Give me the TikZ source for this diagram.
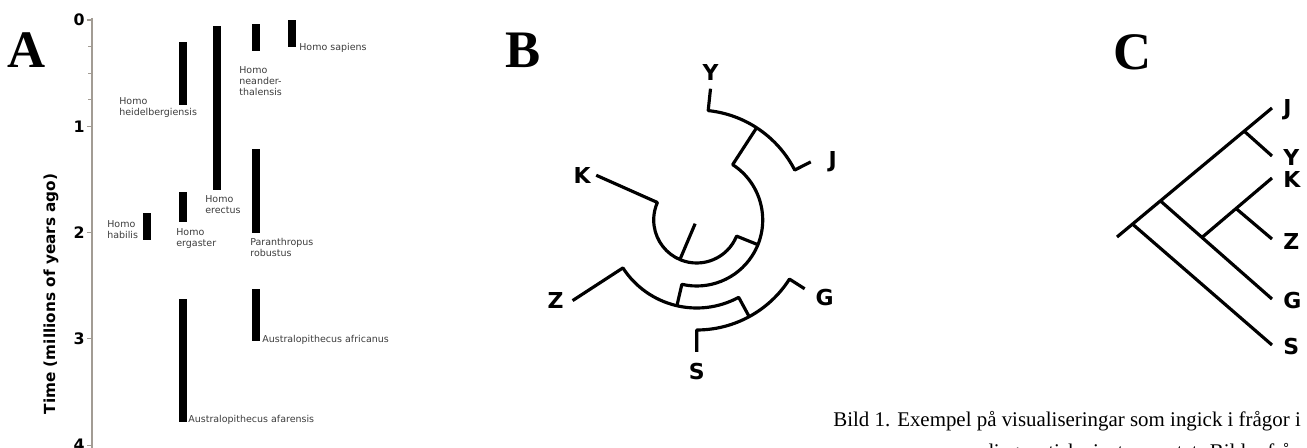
\documentclass[tikz,border=0pt]{standalone}
\usepackage{fontspec}
\setmainfont{Liberation Serif}
\setsansfont{DejaVu Sans}
\usetikzlibrary{positioning,calc}
\definecolor{axisGrey}{HTML}{A29C94}
\definecolor{specGrey}{HTML}{3C3C3C}
\tikzset{
  panel/.style={font=\fontsize{30}{30}\selectfont\bfseries, inner sep=0pt},
  bar/.style={fill=black, draw=none},
  spec/.style={font=\sffamily\fontsize{5.4}{6.4}\selectfont, text=specGrey,
               align=left, anchor=north west, inner sep=0pt},
  tick/.style={font=\sffamily\bfseries\fontsize{9}{9}\selectfont, anchor=east, inner sep=0pt},
  axlbl/.style={font=\sffamily\bfseries\fontsize{8.7}{8.7}\selectfont, rotate=90, inner sep=0pt},
  branch/.style={line width=1.8pt, line join=round},
  taxon/.style={font=\sffamily\bfseries\fontsize{12.5}{12.5}\selectfont, inner sep=0pt},
  caption/.style={font=\fontsize{11.9}{14}\selectfont, anchor=base west, inner sep=0pt},
}

\begin{document}
\begin{tikzpicture}[x=0.02cm, y=0.02cm]
  \useasboundingbox (0,0) rectangle (1307,-448);

  % --- A: time ranges
  \node[panel] (labA) at (27,-50) {A};
  \draw[axisGrey, line width=0.7pt] (92,-18) -- (92,-460);
  \foreach \t in {0,...,4}{
    \draw[axisGrey, line width=0.6pt] (87,{-20-106.3*\t}) -- (92,{-20-106.3*\t});
    \node[tick] (tick\t) at (85,{-20-106.3*\t}) {\t};
  }
  \foreach \t in {0.25,0.5,0.75}{\draw[axisGrey, line width=0.6pt] (88,{-20-106.3*\t}) -- (92,{-20-106.3*\t});}
  \node[axlbl] (ylab) at (51,-294) {Time (millions of years ago)};
  \foreach \x/\a/\b in {292/20/47, 256/24/51, 217/26/190, 183/42/105, 183/192/222,
                        147/213/240, 256/149/233, 256/289/341, 183/299/422}{
    \fill[bar] (\x-4,-\a) rectangle (\x+4,-\b);
  }
  \node[spec] (sap) at (299,-43) {Homo sapiens};
  \node[spec] (nea) at (239,-66) {Homo\\neander-\\thalensis};
  \node[spec] (hei) at (119,-97) {Homo\\heidelbergiensis};
  \node[spec] (ere) at (205,-195) {Homo\\erectus};
  \node[spec] (hab) at (107,-220) {Homo\\habilis};
  \node[spec] (erg) at (176,-228) {Homo\\ergaster};
  \node[spec] (par) at (250,-238) {Paranthropus\\robustus};
  \node[spec] (afr) at (262,-335) {Australopithecus africanus};
  \node[spec] (afa) at (188,-415) {Australopithecus afarensis};

  % --- B: circular tree
  \node[panel] (labB) at (523,-50) {B};
  \begin{scope}[shift={(696.7,-220)}]
    \coordinate (yTip) at (84:132);  \coordinate (yB) at (84:110);
    \coordinate (jTip) at (27:128);  \coordinate (yjB) at (57:110);
    \coordinate (kTip) at (156:110); \coordinate (zTip) at (-147:148);
    \coordinate (sTip) at (-90:132); \coordinate (gTip) at (-32.5:128);
    \coordinate (kzB) at (-22:66);   \coordinate (root) at (-113:43);
    \coordinate (inB) at (-103:66);  \coordinate (gsB) at (-61.5:88);
    \draw[branch] (yTip) -- (yB) arc[start angle=84, end angle=27, radius=110] -- (jTip);
    \draw[branch] (yjB) -- (57:66) arc[start angle=57, end angle=-103, radius=66] -- (-103:88);
    \draw[branch] (kzB) -- (-22:43) arc[start angle=-22, end angle=-204, radius=43] -- (kTip);
    \draw[branch] (root) -- (-113:4);
    \draw[branch] (zTip) -- (-147:88) arc[start angle=-147, end angle=-61.5, radius=88] -- (-61.5:110);
    \draw[branch] (sTip) -- (-90:110) arc[start angle=-90, end angle=-32.5, radius=110] -- (gTip);
  \end{scope}
  \node[taxon, above=4.5pt of yTip] (bY) {Y};
  \node[taxon, right=10pt of jTip] (bJ) {J};
  \node[taxon, left=3pt of kTip] (bK) {K};
  \node[taxon, left=5pt of zTip] (bZ) {Z};
  \node[taxon, right=6pt of gTip, yshift=-5pt] (bG) {G};
  \node[taxon, below=6pt of sTip] (bS) {S};

  % --- C: rectangular tree
  \node[panel] (labC) at (1133,-52) {C};
  \coordinate (c0) at (1117,-237);
  \coordinate (cS) at (1132.5,-224.1);
  \coordinate (cG) at (1160.4,-200.9);
  \coordinate (cY) at (1244,-131);
  \coordinate (cKZ) at (1202,-237.4);
  \coordinate (cZ) at (1236,-208.5);
  \coordinate (tJ) at (1272,-108);
  \coordinate (tY) at (1272,-156);
  \coordinate (tK) at (1272,-178);
  \coordinate (tZ) at (1272,-239);
  \coordinate (tG) at (1272,-299);
  \coordinate (tS) at (1272,-345);
  \draw[branch] (c0) -- (tJ);
  \foreach \a/\b in {cS/tS, cG/tG, cY/tY, cKZ/tK, cZ/tZ}{\draw[branch] (\a) -- (\b);}
  \foreach \t/\l in {tJ/J, tY/Y, tK/K, tZ/Z, tG/G, tS/S}{
    \node[taxon, anchor=west] (c\l) at ($(\t)+(11,-2)$) {\l};
  }

  % --- caption (cut by the frame)
  \node[caption] (cap1) at (833,-427) {Bild 1. Exempel på visualiseringar som ingick i frågor i};
  \node[caption] (cap2) at (983,-459) {diagnostiska instrumentet. Bilder från};
\end{tikzpicture}
\end{document}
